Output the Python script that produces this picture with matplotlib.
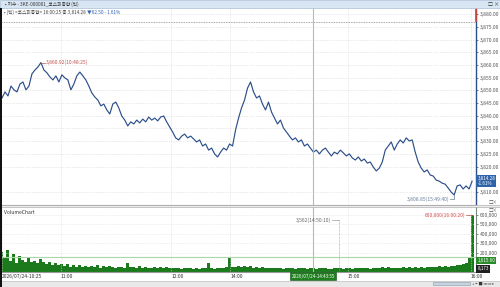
import matplotlib
matplotlib.use("Agg")
import matplotlib.pyplot as plt
from matplotlib.patches import Rectangle
import numpy as np

plt.rcParams['font.family'] = ['Noto Sans CJK KR', 'DejaVu Sans']

# tick-chart data, one value per sampled tick (index based x axis)
price = [3847.0, 3849.4, 3847.8, 3851.7, 3850.2, 3849.4, 3852.5, 3853.3, 3850.2, 3851.7,
         3856.5, 3858.0, 3859.2, 3860.92, 3858.0, 3856.9, 3855.3, 3854.1, 3855.7, 3853.3,
         3856.1, 3854.9, 3854.1, 3850.2, 3852.5, 3855.7, 3857.2, 3855.7, 3854.1, 3851.7,
         3849.0, 3847.4, 3846.2, 3843.9, 3844.6, 3842.3, 3840.7, 3844.6, 3845.4, 3843.1,
         3839.9, 3838.3, 3836.0, 3837.6, 3836.8, 3838.3, 3837.2, 3838.7, 3837.6, 3839.5,
         3838.3, 3839.1, 3838.0, 3839.5, 3839.9, 3837.6, 3835.6, 3833.6, 3831.3, 3830.5,
         3832.0, 3832.8, 3831.3, 3832.0, 3830.9, 3829.7, 3830.5, 3828.1, 3828.9, 3826.5,
         3827.3, 3825.0, 3823.8, 3825.7, 3827.3, 3826.5, 3828.9, 3828.1, 3834.4, 3839.1,
         3843.1, 3846.2, 3850.9, 3853.3, 3849.4, 3847.0, 3847.8, 3844.6, 3842.3, 3845.4,
         3841.5, 3839.1, 3836.8, 3838.3, 3835.2, 3833.6, 3832.0, 3830.5, 3831.3, 3829.7,
         3830.5, 3828.1, 3828.9, 3827.3, 3825.7, 3826.5, 3825.0, 3826.5, 3827.3, 3825.7,
         3824.2, 3825.7, 3825.0, 3826.5, 3825.4, 3824.2, 3825.0, 3823.4, 3822.6, 3823.8,
         3822.2, 3823.0, 3821.4, 3821.8, 3819.8, 3818.3, 3819.4, 3821.8, 3826.5, 3828.1,
         3829.7, 3826.5, 3828.9, 3830.5, 3829.3, 3831.3, 3830.1, 3830.5, 3825.7, 3821.8,
         3819.4, 3817.9, 3818.7, 3816.7, 3816.3, 3814.7, 3814.3, 3813.5, 3813.1, 3811.6,
         3810.0, 3808.85, 3812.4, 3812.8, 3811.2, 3812.4, 3811.2, 3814.28]

# volume in thousands
volume = [210, 150, 230, 120, 190, 90, 170, 130, 100, 150, 110, 120, 90, 140, 100, 80, 110, 75, 95, 70,
          80, 60, 85, 55, 70, 50, 75, 55, 65, 48, 60, 52, 70, 45, 58, 50, 62, 48, 45, 55,
          50, 42, 95, 48, 55, 45, 60, 42, 50, 46, 40, 52, 44, 48, 40, 55, 42, 38, 45, 40,
          35, 42, 38, 45, 36, 40, 34, 42, 38, 90, 40, 36, 44, 38, 42, 50, 150, 55, 48, 60,
          52, 65, 50, 58, 45, 50, 42, 48, 40, 45, 38, 44, 40, 42, 36, 40, 38, 44, 35, 40,
          38, 42, 36, 40, 38, 35, 42, 38, 40, 36, 34, 40, 38, 42, 36, 40, 38, 35, 42, 40,
          38, 44, 40, 36, 42, 45, 40, 48, 44, 50, 42, 46, 40, 45, 48, 42, 50, 44, 48, 46,
          50, 45, 52, 48, 55, 50, 58, 52, 60, 55, 65, 58, 70, 75, 80, 95, 160, 600]

time_ticks = [19.7, 56.5, 76.3, 115.4, 156.5]
time_labels = ['11:00', '12:00', '14:00', '15:00', '16:00']
start_label = '2026/07/24-10:25'
price_ticks = [3810, 3820, 3825, 3830, 3835, 3840, 3845, 3850, 3855, 3860, 3865, 3870, 3875, 3880]
vol_ticks = [200, 300, 400, 500, 600]
prev_close = 3876.78
cross_idx = 104
high_idx, low_idx = 13, 151
vmark_idx = 112.4

W, H = 500, 287
fig = plt.figure(figsize=(W / 100, H / 100), dpi=100, facecolor='white')

def fx(px):
    return px / W

def fy(py):
    return 1 - py / H

xr = (0, 158.3)
fs = 3.6
blue = '#2c4f8a'
green = '#1b7a1b'

# price panel
ax = fig.add_axes([fx(2), fy(205), fx(474), (205 - 8) / H])
x = np.arange(len(price))
ax.plot(x, price, color=blue, lw=0.85)
ax.set_xlim(*xr)
ax.set_ylim(3804.9, 3882.4)
ax.yaxis.tick_right()
ax.set_yticks(price_ticks)
ax.set_yticklabels(['{:,.2f}'.format(v) for v in price_ticks])
ax.tick_params(axis='y', labelsize=fs, length=1.5, width=0.5, pad=1, colors='#555555')
ax.set_xticks(time_ticks)
ax.tick_params(axis='x', length=0, labelbottom=False)
ax.grid(True, color='#d6d6d6', ls=(0, (1, 1.5)), lw=0.5)
ax.axhline(prev_close, color='#888888', ls=(0, (1, 1)), lw=0.6)
for s in ['top', 'left']:
    ax.spines[s].set_visible(False)
ax.spines['bottom'].set_color('#9a9a9a')
ax.spines['right'].set_color(blue)
ax.spines['right'].set_linewidth(1.0)
ax.vlines(xr[1], prev_close, 3882.4, color='#e0402a', lw=1.2, clip_on=False, zorder=5)
ax.axvline(cross_idx, color='#9ccc9c', lw=0.8)

ax.plot([high_idx, high_idx + 1.5], [price[high_idx]] * 2, color='#c0504d', lw=0.5)
ax.text(high_idx + 1.7, price[high_idx], '3,860.92(10:48:25)', color='#c0504d',
        fontsize=fs, va='center')
ax.plot([low_idx, low_idx, low_idx - 1.5], [price[low_idx], 3807.3, 3807.3],
        color='#6a7f99', lw=0.5)
ax.text(low_idx - 1.7, 3807.3, '3,808.85(15:49:40)', color='#6a7f99',
        fontsize=fs, va='center', ha='right')
ax.text(1.003, price[-1], '3,814.28\n-1.61%', transform=ax.get_yaxis_transform(),
        fontsize=3.3, color='white', va='center', ha='left', linespacing=0.9,
        bbox=dict(boxstyle='square,pad=0.25', fc='#2f63a8', ec='none'), zorder=6)

# volume panel
axv = fig.add_axes([fx(2), fy(272), fx(474), (272 - 207) / H])
axv.bar(x, volume, width=1.0, color=green, edgecolor='none')
axv.set_xlim(*xr)
axv.set_ylim(0, 684)
axv.yaxis.tick_right()
axv.set_yticks(vol_ticks)
axv.set_yticklabels(['{:,.0f}'.format(v * 1000) for v in vol_ticks])
axv.tick_params(axis='y', labelsize=fs, length=1.5, width=0.5, pad=1, colors='#555555')
axv.set_xticks([0] + time_ticks)
axv.set_xticklabels([start_label] + time_labels, ha='left')
axv.tick_params(axis='x', labelsize=fs, length=0, pad=1.5, colors='#333333')
axv.grid(True, color='#dedede', ls=(0, (1, 1.5)), lw=0.5)
for s in ['top', 'left']:
    axv.spines[s].set_visible(False)
axv.spines['bottom'].set_color('#9a9a9a')
axv.spines['right'].set_color('#7a8a7a')
axv.axvline(cross_idx, color='#9ccc9c', lw=0.8)
axv.axhline(158, color='#a8d8a8', lw=0.8)
axv.text(0.005, 0.96, 'VolumeChart', transform=axv.transAxes, fontsize=fs,
         va='top', color='#333333')

axv.vlines(vmark_idx, 0, 547, color='#999999', ls=(0, (1, 1)), lw=0.5)
axv.plot([vmark_idx - 2.2, vmark_idx], [547, 547], color='#999999', lw=0.5)
axv.text(vmark_idx - 2.4, 547, '3,562(14:50:10)', fontsize=fs, color='#666666',
         ha='right', va='center')
axv.plot([len(volume) - 3, len(volume) - 1], [600, 600], color='#c0504d', lw=0.5)
axv.text(len(volume) - 3.2, 600, '600,000(16:00:20)', fontsize=fs, color='#d0504d',
         ha='right', va='center')

axv.text(1.003, 118, '1,615.60', transform=axv.get_yaxis_transform(), fontsize=3.3,
         color='white', va='center', bbox=dict(boxstyle='square,pad=0.25', fc='#2a8a2a', ec='none'),
         zorder=6)
axv.text(1.003, 32, '8,173', transform=axv.get_yaxis_transform(), fontsize=3.3,
         color='white', va='center', bbox=dict(boxstyle='square,pad=0.25', fc='#202020', ec='none'),
         zorder=6)
axv.text(cross_idx, -0.065, '2026/07/24-14:43:55', transform=axv.get_xaxis_transform(),
         fontsize=3.3, color='white', ha='center', va='center', clip_on=False,
         bbox=dict(boxstyle='square,pad=0.3', fc='#1f7f1f', ec='#0f4f0f', lw=0.4), zorder=6)

# window chrome
fig.patches.append(Rectangle((0, fy(8)), 1, 8 / H, transform=fig.transFigure,
                             fc='#d8e6f3', ec='#a9bfd6', lw=0.5))
fig.text(fx(5), fy(4), '• 지수 - 3KE-000001_코스피종합 (틱)', fontsize=3.4,
         va='center', color='#333333')
fig.text(fx(488), fy(4), '□ ×', fontsize=3.6, va='center', color='#333333')
fig.text(fx(4), fy(12.5), '• (틱) <코스피종합> 16:00:25 종 3,814.28', fontsize=3.4,
         va='center', color='#444444')
fig.text(fx(87), fy(12.5), '▼62.50 - 1.61%', fontsize=3.4, va='center', color='#2f5fb0')
fig.patches.append(Rectangle((0, fy(207)), 1, 2 / H, transform=fig.transFigure,
                             fc='#ececec', ec='#a0a0a0', lw=0.4))
fig.text(fx(489), fy(203), '□×', fontsize=3.2, va='center', color='#555555')
fig.text(fx(489), fy(211), '□×', fontsize=3.2, va='center', color='#555555')
fig.patches.append(Rectangle((0, 0), 1, 6 / H, transform=fig.transFigure,
                             fc='#e9e9e9', ec='#b0b0b0', lw=0.4))
fig.patches.append(Rectangle((fx(433), fy(285)), fx(37), 3 / H, transform=fig.transFigure,
                             fc='#c8d4e0', ec='#8899aa', lw=0.4))
fig.text(fx(472), fy(284), '+ − ■ more', fontsize=3.0, va='center', color='#333333')
fig.patches.append(Rectangle((0, 0), fx(2), 1 - 8 / H, transform=fig.transFigure,
                             fc='#111111', ec='none'))

fig.savefig('out.png', dpi=100, facecolor='white')
